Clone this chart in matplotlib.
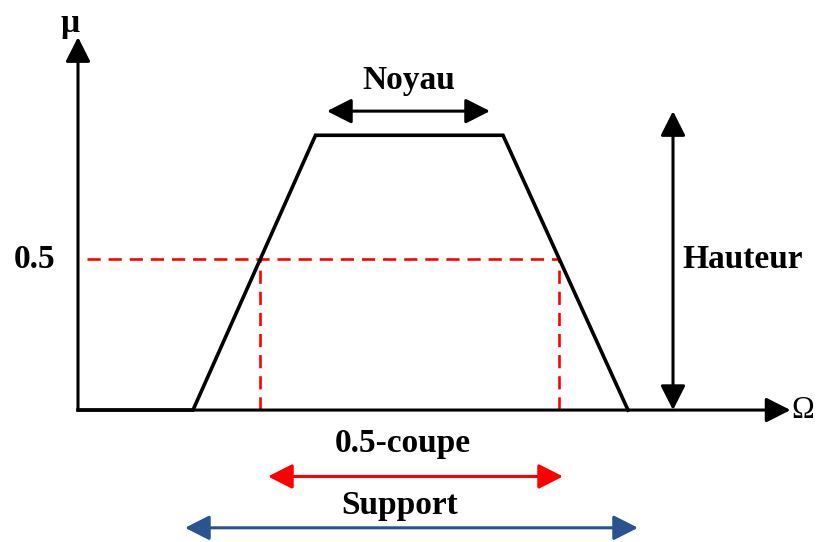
import numpy as np
import matplotlib
matplotlib.use("Agg")
import matplotlib.pyplot as plt

#  Data (arbitrary units)
trap_x     = [2.3, 4.75, 8.5, 11.0]     # support start, core start, core end, support end
mu_peak    = 0.91                        # height of the plateau
alpha      = 0.5                         # cut level
hauteur    = [0.0, 0.99]                 # "Hauteur" arrow span
noyau_span = [4.98, 8.24]                # "Noyau" arrow
coupe_span = [3.8, 9.7]                  # red arrow under the axis
supp_span  = [2.14, 11.2]                # blue arrow under the axis
x_max      = 14.25
y_max      = 1.235
hauteur_x  = 11.9
labels     = {"mu": "μ", "omega": "Ω", "noyau": "Noyau", "hauteur": "Hauteur",
              "alpha": "0.5", "coupe": "0.5-coupe", "support": "Support"}

#  Style
FONT  = {"family": "Liberation Serif", "weight": "bold", "size": 24}
BLACK = "black"
RED   = "#ff0000"
BLUE  = "#2b5390"

fig = plt.figure(figsize=(8.23, 5.42), dpi=100)
ax = fig.add_axes([0, 0, 1, 1])
ax.set_xlim(-1.56, 14.9)
ax.set_ylim(-0.437, 1.358)
ax.axis("off")


def arrow(x0, y0, x1, y1, color, both=False, lw=2.2):
    style = "<|-|>" if both else "-|>"
    ax.annotate("", xy=(x1, y1), xytext=(x0, y0),
                arrowprops=dict(arrowstyle=style + ",head_length=0.75,head_width=0.38",
                                mutation_scale=20, color=color, lw=lw,
                                shrinkA=0, shrinkB=0))


# axes
arrow(0, 0, x_max, 0, BLACK)
arrow(0, 0, 0, y_max, BLACK)
ax.text(-0.15, y_max + 0.045, labels["mu"], ha="center", va="center", **FONT)
ax.text(x_max + 0.02, 0.0, labels["omega"], ha="left", va="center",
        **{**FONT, "weight": "normal", "size": 22})

# trapezoid membership function
ax.plot([0, trap_x[0], trap_x[1], trap_x[2], trap_x[3]],
        [0, 0, mu_peak, mu_peak, 0], color=BLACK, lw=2.6,
        solid_joinstyle="miter", zorder=3)

# alpha cut (dashed)
a, b, c, d = trap_x
xl = a + alpha / mu_peak * (b - a)
xr = d - alpha / mu_peak * (d - c)
dash = dict(color=RED, lw=1.9, ls=(0, (5, 3)), zorder=2)
ax.plot([0.18, xr], [alpha, alpha], **dash)
ax.plot([xl, xl], [0, alpha], **dash)
ax.plot([xr, xr], [0, alpha], **dash)
ax.text(-0.86, alpha, labels["alpha"], ha="center", va="center", **FONT)

# noyau
arrow(noyau_span[0], hauteur[1], noyau_span[1], hauteur[1], BLACK, both=True)
ax.text(np.mean(noyau_span), 1.09, labels["noyau"], ha="center", va="center", **FONT)

# hauteur
arrow(hauteur_x, hauteur[0], hauteur_x, hauteur[1], BLACK, both=True)
ax.text(hauteur_x + 0.18, alpha, labels["hauteur"], ha="left", va="center", **FONT)

# 0.5-coupe and support
ax.text(6.5, -0.11, labels["coupe"], ha="center", va="center", **FONT)
arrow(coupe_span[0], -0.22, coupe_span[1], -0.22, RED, both=True)
ax.text(6.44, -0.315, labels["support"], ha="center", va="center", **FONT)
arrow(supp_span[0], -0.39, supp_span[1], -0.39, BLUE, both=True)

plt.savefig("out.png", dpi=100)
